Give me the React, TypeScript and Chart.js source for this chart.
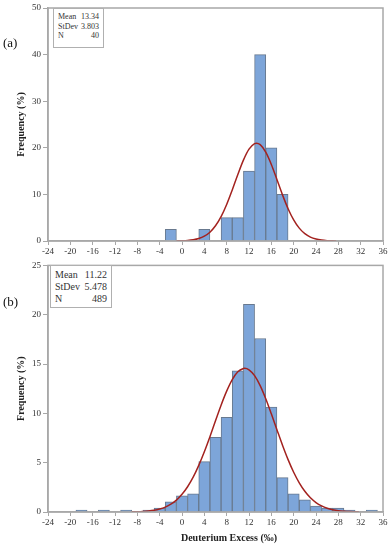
import React, { useEffect, useRef } from "react";
import { Chart, registerables } from "chart.js";
Chart.register(...registerables);

const FONT = "'Liberation Serif', 'DejaVu Serif', serif";

// x axis (Deuterium excess, ‰)
const xMin = -24;
const xMax = 36;
const xStep = 4;

// Panel (a)
const binCentersA = [-2, 4, 8, 10, 12, 14, 16, 18];
const freqA = [2.5, 2.5, 5, 5, 15, 40, 20, 10];
const curveXA = [-1, 0, 1, 2, 3, 4, 5, 6, 7, 8, 9, 10, 11, 12, 13, 13.34, 14, 15, 16, 17, 18, 19, 20, 21, 22, 23, 24, 25, 26, 27, 27.6];
const curveYA = [0.02, 0.05, 0.11, 0.25, 0.52, 1.03, 1.89, 3.26, 5.22, 7.83, 10.94, 14.27, 17.36, 19.72, 20.9, 20.98, 20.67, 19.07, 16.43, 13.2, 9.9, 6.93, 4.53, 2.76, 1.57, 0.83, 0.41, 0.19, 0.08, 0.03, 0.015];
const statsLabelsA = ["Mean", "StDev", "N"];
const statsValuesA = ["13.34", "3.803", "40"];

// Panel (b)
const binCentersB = [-18, -14, -10, -6, -4, -2, 0, 2, 4, 6, 8, 10, 12, 14, 16, 18, 20, 22, 24, 26, 28, 30, 34];
const freqB = [0.2, 0.2, 0.2, 0.2, 0.41, 1.02, 1.64, 1.84, 5.11, 7.57, 9.61, 14.31, 21.06, 17.59, 10.63, 3.48, 1.84, 1.23, 0.61, 0.41, 0.41, 0.2, 0.2];
const curveXB = [-9, -8, -7, -6, -5, -4, -3, -2, -1, 0, 1, 2, 3, 4, 5, 6, 7, 8, 9, 10, 11, 11.22, 12, 13, 14, 15, 16, 17, 18, 19, 20, 21, 22, 23, 24, 25, 26, 27, 28, 29, 30, 31, 31.7];
const curveYB = [0.016, 0.031, 0.058, 0.104, 0.18, 0.31, 0.5, 0.79, 1.21, 1.79, 2.56, 3.53, 4.73, 6.11, 7.64, 9.25, 10.83, 12.25, 13.42, 14.21, 14.55, 14.57, 14.42, 13.82, 12.81, 11.48, 9.95, 8.35, 6.77, 5.31, 4.03, 2.96, 2.1, 1.44, 0.96, 0.62, 0.38, 0.23, 0.13, 0.075, 0.041, 0.021, 0.012];
const statsLabelsB = ["Mean", "StDev", "N"];
const statsValuesB = ["11.22", "5.478", "489"];

const AXIS_COLOR = "#a8a8a8";

const framePlugin = {
  id: "frame",
  afterDraw(chart: any) {
    const { ctx, chartArea } = chart;
    ctx.save();
    ctx.strokeStyle = AXIS_COLOR;
    ctx.lineWidth = 1.5;
    ctx.strokeRect(chartArea.left, chartArea.top, chartArea.right - chartArea.left, chartArea.bottom - chartArea.top);
    ctx.restore();
  },
};

type Cfg = {
  width: number;
  height: number;
  padTop: number;
  xAxisHeight: number;
  yMax: number;
  yStep: number;
  centers: number[];
  freqs: number[];
  curveX: number[];
  curveY: number[];
};

function Histogram(props: Cfg & { top: number }) {
  const ref = useRef<HTMLCanvasElement | null>(null);
  useEffect(() => {
    if (!ref.current) return;
    const cfg = props;
    const chart = new Chart(ref.current, {
      type: "bar",
      data: {
        datasets: [
          {
            type: "line",
            data: cfg.curveX.map((x, i) => ({ x, y: cfg.curveY[i] })),
            borderColor: "#a3221f",
            borderWidth: 1.5,
            pointRadius: 0,
            cubicInterpolationMode: "monotone",
            fill: false,
            order: 1,
          } as any,
          {
            type: "bar",
            data: cfg.centers.map((x, i) => ({ x, y: cfg.freqs[i] })),
            backgroundColor: "#7da5d9",
            borderColor: "#68798f",
            borderWidth: 1,
            barPercentage: 1,
            categoryPercentage: 1,
            order: 2,
          } as any,
        ],
      },
      options: {
        responsive: false,
        animation: false,
        layout: { padding: { left: 0, right: 9, top: cfg.padTop, bottom: 0 } },
        plugins: { legend: { display: false }, tooltip: { enabled: false } },
        scales: {
          x: {
            type: "linear",
            min: xMin,
            max: xMax,
            offset: false,
            ticks: {
              stepSize: xStep,
              autoSkip: false,
              maxRotation: 0,
              padding: 1,
              color: "#333",
              font: { family: FONT, size: 9 },
            },
            grid: { display: true, drawOnChartArea: false, drawTicks: true, tickLength: 4, color: AXIS_COLOR, offset: false },
            border: { display: true, color: AXIS_COLOR, width: 1.5 },
            afterFit: (s: any) => {
              s.height = cfg.xAxisHeight;
            },
          },
          y: {
            min: 0,
            max: cfg.yMax,
            ticks: {
              stepSize: cfg.yStep,
              padding: 2,
              color: "#333",
              font: { family: FONT, size: 9 },
            },
            grid: { display: true, drawOnChartArea: false, drawTicks: true, tickLength: 5, color: AXIS_COLOR },
            border: { display: true, color: AXIS_COLOR, width: 1.5 },
            title: {
              display: true,
              text: "Frequency (%)",
              color: "#222",
              font: { family: FONT, size: 10, weight: "bold" },
              padding: { top: 15, bottom: 0 },
            },
            afterFit: (s: any) => {
              s.width = 48;
            },
          },
        },
      } as any,
      plugins: [framePlugin],
    });
    return () => chart.destroy();
  }, []);
  return (
    <canvas
      ref={ref}
      width={props.width}
      height={props.height}
      style={{ position: "absolute", left: 0, top: props.top, width: props.width, height: props.height }}
    />
  );
}

function StatsBox(props: {
  left: number;
  top: number;
  width: number;
  height: number;
  fontSize: number;
  lineHeight: number;
  labels: string[];
  values: string[];
}) {
  return (
    <div
      style={{
        position: "absolute",
        left: props.left,
        top: props.top,
        width: props.width,
        height: props.height,
        border: "1px solid #b0b0b0",
        background: "#fff",
        boxSizing: "border-box",
        padding: "3px 4px",
        fontFamily: FONT,
        fontSize: props.fontSize,
        lineHeight: props.lineHeight + "px",
        color: "#333",
      }}
    >
      {props.labels.map((l, i) => (
        <div key={l} style={{ display: "flex", justifyContent: "space-between" }}>
          <span>{l}</span>
          <span>{props.values[i]}</span>
        </div>
      ))}
    </div>
  );
}

export default function App() {
  return (
    <div style={{ position: "absolute", left: 0, top: 0, width: 392, height: 550, background: "#fff", overflow: "hidden" }}>
      <Histogram
        top={0}
        width={392}
        height={262}
        padTop={8}
        xAxisHeight={21}
        yMax={50}
        yStep={10}
        centers={binCentersA}
        freqs={freqA}
        curveX={curveXA}
        curveY={curveYA}
      />
      <Histogram
        top={258}
        width={392}
        height={292}
        padTop={4}
        xAxisHeight={38}
        yMax={25}
        yStep={5}
        centers={binCentersB}
        freqs={freqB}
        curveX={curveXB}
        curveY={curveYB}
      />
      <StatsBox left={53} top={8} width={51} height={40} fontSize={8} lineHeight={9.5} labels={statsLabelsA} values={statsValuesA} />
      <StatsBox left={50} top={265} width={62} height={43} fontSize={10} lineHeight={12} labels={statsLabelsB} values={statsValuesB} />
      <div style={{ position: "absolute", left: 3, top: 35, fontFamily: FONT, fontSize: 13, color: "#111" }}>(a)</div>
      <div style={{ position: "absolute", left: 3, top: 294, fontFamily: FONT, fontSize: 13, color: "#111" }}>(b)</div>
      <div
        style={{
          position: "absolute",
          left: 129,
          width: 200,
          top: 532,
          textAlign: "center",
          fontFamily: FONT,
          fontSize: 10,
          fontWeight: "bold",
          color: "#222",
        }}
      >
        Deuterium Excess (‰)
      </div>
    </div>
  );
}
